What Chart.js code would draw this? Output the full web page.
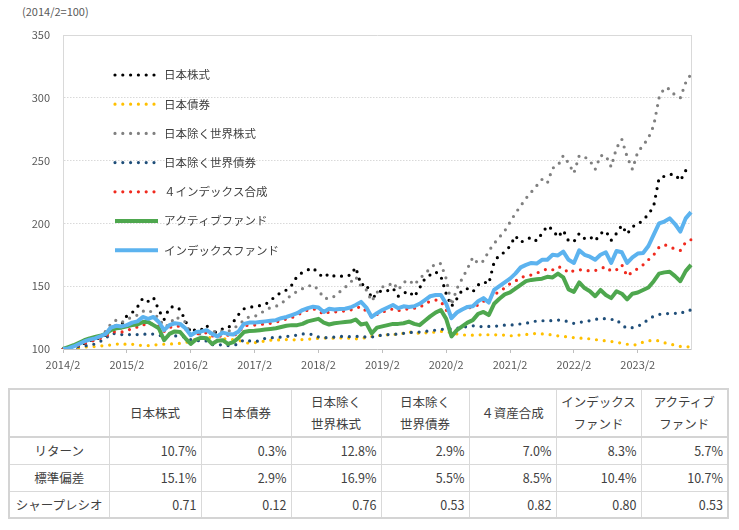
<!DOCTYPE html>
<html lang="ja">
<head>
<meta charset="UTF-8">
<title>資産クラス別の推移</title>
<script src="https://cdn.jsdelivr.net/npm/chart.js@4"></script>
<style>
  body { margin: 0; background: #fff; width: 739px; height: 530px; position: relative; overflow: hidden;
         font-family: "Noto Sans CJK JP", "Noto Sans", sans-serif; color: #404040; }
  #base-note { position: absolute; left: 22px; top: 3px; font-size: 11px; color: #595959; }
  #chart-box { position: absolute; left: 0; top: 0; width: 739px; height: 385px; }
  #stats { position: absolute; left: 8px; top: 388px; width: 719px; border-collapse: collapse;
           table-layout: fixed; font-size: 12.5px; border: 2px solid #d4d4d4; }
  #stats th, #stats td { border: 1px solid #d9d9d9; padding: 0 4px; }
  #stats th { font-weight: normal; text-align: center; line-height: 22px; }
  #stats thead tr { height: 48px; }
  #stats thead th { border-bottom: 2px solid #d4d4d4; }
  #stats tbody tr { height: 27px; }
  #stats td { text-align: right; }
  #stats td.rowhead { text-align: center; }
</style>
</head>
<body>
<div id="base-note">(2014/2=100)</div>
<div id="chart-box"><canvas id="trend"></canvas></div>
<table id="stats">
  <colgroup>
    <col style="width:100px"><col style="width:92px"><col style="width:90px"><col style="width:90px">
    <col style="width:88px"><col style="width:87px"><col style="width:85px"><col style="width:87px">
  </colgroup>
  <thead><tr id="stats-head"><th></th></tr></thead>
  <tbody id="stats-body"></tbody>
</table>

<script>
// 月次ラベル 2014/2 ～ 2023/12
const months = [];
for (let k = 0; k < 119; k++) {
  const t = 2014 * 12 + 1 + k;
  months.push(Math.floor(t / 12) + '/' + (t % 12 + 1));
}
const yearTicks = ['2014/2', '2015/2', '2016/2', '2017/2', '2018/2', '2019/2', '2020/2', '2021/2', '2022/2', '2023/2'];

const japanStock = [
  100, 99.5, 99, 101, 104.5, 107, 106.5, 110, 111, 118, 118.5, 119.5,
  126.5, 129, 133.5, 140.5, 138, 141, 131, 123.5, 133, 134, 131.5, 122.5,
  113, 116, 115.5, 119, 110.5, 115, 116, 116.5, 121.5, 127.5, 132, 133,
  134, 134.5, 135.5, 138.5, 142.5, 145, 147, 151, 158, 161, 163, 164.5,
  160, 157, 160, 158, 157.5, 159, 158.5, 165, 151, 152, 140, 144,
  147, 146.5, 148.5, 142, 144.5, 146, 141.5, 148.5, 156, 159, 161.5, 158,
  144, 134, 140, 147, 148, 145.5, 151, 153.5, 152, 169, 175, 177,
  182, 190, 185, 187, 189, 186, 192, 198, 195, 189, 194.5, 186,
  185.5, 192, 188, 189.5, 186, 192, 194, 186.5, 192, 198.5, 191.5, 197.5,
  199, 203, 207, 214, 236, 237.5, 239, 239, 234, 242, 245
];
const japanBond = [
  100, 100.3, 100.6, 101, 101.5, 101.8, 102, 102.5, 102.7, 103.3, 103.8, 104.5,
  103.5, 103.8, 103, 102.8, 102.7, 103.2, 103.5, 103.8, 104, 104.2, 104.5, 105,
  106.5, 108, 108.5, 108.5, 109.5, 110, 108.5, 107.5, 107.5, 107, 105.5, 104.5,
  105, 105.5, 106.5, 107, 107, 107.5, 107.5, 107.2, 107.5, 107.5, 107.8, 108,
  108.5, 108.7, 108.7, 108.5, 108.8, 108.8, 108.5, 108, 108.5, 109, 110, 110.5,
  111, 111.3, 111.3, 112, 112.5, 113.5, 113, 112.5, 112.8, 113, 113.5, 114,
  113.8, 113, 112, 111.3, 111, 111, 111.2, 111.5, 111.3, 111.3, 111.2, 111.1,
  110.5, 110.8, 111.2, 111.5, 112, 112.5, 112, 111.5, 111.3, 110.5, 110, 109.5,
  109, 108.5, 108.8, 108, 107.5, 107, 106.5, 106, 105.5, 104.5, 103.8, 103.2,
  103.5, 105.5, 106.5, 107, 106.5, 105, 104, 103, 102, 101.5, 102
];
const worldStock = [
  100, 100.5, 101, 103, 104.5, 106, 107, 110, 114, 120, 123, 121,
  123.5, 125.5, 127, 130, 131, 128.5, 124.5, 118, 119, 125.5, 124, 121.5,
  111.5, 111, 112.5, 114, 113, 115, 114, 113.8, 116.5, 119, 123, 125.7,
  126, 128, 131, 133, 134, 136, 140, 143, 146, 148, 150, 151,
  147, 140.5, 140, 142, 145.5, 149, 153, 157.5, 150, 147, 138, 145,
  149.5, 150, 153, 147, 153, 155, 151, 156, 160, 164, 168, 168,
  156, 135, 148, 156, 164, 173, 168, 170, 178, 184, 189, 194,
  201, 208, 214, 220, 225, 230, 235, 232, 244, 246, 254, 248,
  240, 254, 253, 250, 243, 254, 254, 245, 260, 267, 253, 243,
  257, 262, 268, 278, 300, 308, 307, 302, 300, 312, 319
];
const worldBond = [
  100, 100.5, 101, 102, 102.5, 103, 104, 106, 108.5, 112, 112.5, 111.5,
  112, 111, 111.5, 112, 111.5, 112, 111, 110, 110.5, 110.5, 110, 109.5,
  107.5, 107, 106, 106.5, 103.5, 103, 103.5, 102.7, 103, 104, 107.5, 106.5,
  106, 106.5, 108.5, 109, 109, 109.5, 110, 110.5, 111, 112, 112, 111.5,
  109.5, 109, 109, 109.5, 110, 110, 109.8, 110, 110, 109.5, 109.5, 110.5,
  111, 111.5, 111.5, 112, 112.5, 113, 113.5, 113.5, 114, 114.5, 115, 115.5,
  116, 116, 116.5, 117, 118, 118.5, 118, 117.8, 118, 118, 118.5, 119,
  119, 119.5, 120, 120.5, 121.5, 122.3, 122.5, 122.5, 122.6, 123, 123, 121.5,
  120.4, 121, 122, 122.5, 123.5, 124.4, 124, 123.5, 123.5, 119, 116.5, 117,
  118.3, 120, 124, 126, 127.5, 128, 128.4, 128.4, 128, 130.5, 131
];
const fourIndex = [
  100, 100.5, 101.5, 103, 104.5, 106, 107, 108.5, 110, 113, 114, 113.5,
  114.5, 116.5, 117.5, 119.5, 119, 120.5, 118, 114, 117, 118.5, 118, 116,
  111, 112, 112.5, 113, 110.5, 109.5, 111, 111, 110.5, 113, 118.5, 119,
  119, 119.5, 120, 120.5, 121.5, 122.5, 124, 125, 127, 129, 131, 132,
  130.5, 127.5, 129.5, 129.5, 130, 130.3, 131, 132.5, 133.7, 130, 125.5, 127.5,
  129.5, 130.5, 132, 130.5, 131.5, 132, 132.5, 133, 136, 138, 139, 138,
  131, 124.5, 129, 131.5, 132.5, 133.5, 135, 138, 139.5, 143, 146, 148.5,
  152, 154, 157, 158, 159, 160.5, 162, 164, 163, 165.5, 164.5, 160.5,
  162.5, 163, 163, 162, 162.5, 164, 165.5, 162, 163, 167, 158, 161.5,
  164, 167, 171, 175, 181, 183, 181.5, 179.5, 178.5, 185, 187
];
const activeFund = [
  100, 101.5, 103, 105, 107, 108.5, 109.5, 110.5, 112, 115, 116.5, 117,
  118, 119, 119.5, 121.5, 121.5, 119, 116.5, 107, 112, 114, 113.5, 108.5,
  104, 107.5, 109, 108.5, 104, 106.5, 107, 104, 105.5, 109, 113.5, 114.3,
  114.5, 115, 115.5, 116, 116.5, 117.5, 118.5, 119, 119, 120, 122, 123,
  124, 121, 119.5, 120.5, 121, 121.5, 121.8, 123.5, 119.5, 120.4, 112.5, 117,
  118, 119, 120, 120, 120.5, 121.8, 120, 119, 122.5, 126, 129, 131,
  124, 110, 115, 118, 121, 123, 128, 129.5, 127, 136, 140, 143.5,
  145, 148, 151, 154, 155, 155.5, 156, 157.5, 157, 160, 157, 147.5,
  145.5, 153, 148.5, 146, 142, 147, 143, 140.5, 146, 144, 139.5, 144,
  145, 147, 149, 154, 160, 161, 161.5, 158, 154, 162, 167
];
const indexFund = [
  100, 100.5, 102, 104, 106, 107.5, 108.5, 110, 112, 117, 118.5, 118,
  119, 121, 122, 125.5, 124, 125.5, 121.5, 115, 119, 120.5, 120, 116.5,
  111, 113.5, 114, 115, 112, 110, 113, 112, 111.5, 114, 120, 121,
  121, 121.5, 122, 122.5, 123, 124.5, 125.5, 127, 128.5, 131, 132.5, 133.7,
  133, 129.5, 132, 131.5, 131.8, 132, 133, 135, 137.5, 133, 125.5, 128.5,
  131, 133, 135, 132.5, 134, 133.5, 134, 136, 139, 142, 143, 143,
  136, 124.5, 129, 131.5, 133.5, 134, 138, 140.5, 137, 147, 150, 153,
  156, 160, 165, 167, 168.5, 168, 171, 171, 175, 174.5, 177.5, 171,
  168.5, 178.5, 175, 173.5, 171, 175, 177, 168.5, 178, 177, 168.5, 173,
  176, 176.5, 182, 191, 200, 201.5, 204, 199.5, 193.5, 204, 209
];

// 表
const statCols = ['日本株式', '日本債券', '日本除く<br>世界株式', '日本除く<br>世界債券', '４資産合成', 'インデックス<br>ファンド', 'アクティブ<br>ファンド'];
const statRows = ['リターン', '標準偏差', 'シャープレシオ'];
const returns = ['10.7%', '0.3%', '12.8%', '2.9%', '7.0%', '8.3%', '5.7%'];
const stdDevs = ['15.1%', '2.9%', '16.9%', '5.5%', '8.5%', '10.4%', '10.7%'];
const sharpe = ['0.71', '0.12', '0.76', '0.53', '0.82', '0.80', '0.53'];

const head = document.getElementById('stats-head');
statCols.forEach(c => { const th = document.createElement('th'); th.innerHTML = c; head.appendChild(th); });
const body = document.getElementById('stats-body');
[returns, stdDevs, sharpe].forEach((vals, r) => {
  const tr = document.createElement('tr');
  tr.innerHTML = '<td class="rowhead">' + statRows[r] + '</td>' + vals.map(v => '<td>' + v + '</td>').join('');
  body.appendChild(tr);
});

Chart.defaults.font.family = '"Noto Sans CJK JP", "Noto Sans", sans-serif';

function dotted(label, data, color) {
  return { label, data, borderColor: color, backgroundColor: color, borderWidth: 3.2,
           borderDash: [0, 7.8], borderCapStyle: 'round', pointRadius: 0, tension: 0 };
}
function solid(label, data, color) {
  return { label, data, borderColor: color, backgroundColor: color, borderWidth: 4,
           borderJoinStyle: 'round', pointRadius: 0, tension: 0 };
}

const datasets = [
  dotted('日本株式', japanStock, '#000000'),
  dotted('日本債券', japanBond, '#ffc000'),
  dotted('日本除く世界株式', worldStock, '#808080'),
  dotted('日本除く世界債券', worldBond, '#1f4e79'),
  dotted('４インデックス合成', fourIndex, '#f02a1e'),
  solid('アクティブファンド', activeFund, '#4ea74e'),
  solid('インデックスファンド', indexFund, '#5cb3ef')
];
datasets.forEach((d, k) => { d.order = datasets.length - k; });

// 凡例はプロット内の左上に縦並び
const insideLegend = {
  id: 'insideLegend',
  afterDraw(chart) {
    const ctx = chart.ctx;
    const x0 = chart.chartArea.left + 52;
    chart.data.datasets.forEach((ds, k) => {
      const y = chart.chartArea.top + 40 + k * 29.2;
      ctx.save();
      ctx.strokeStyle = ds.borderColor;
      ctx.lineWidth = ds.borderWidth;
      ctx.lineCap = ds.borderCapStyle || 'butt';
      ctx.setLineDash(ds.borderDash || []);
      ctx.beginPath();
      ctx.moveTo(x0, y);
      ctx.lineTo(x0 + (ds.borderDash ? 40 : 43), y);
      ctx.stroke();
      ctx.setLineDash([]);
      ctx.fillStyle = '#404040';
      ctx.font = '11.5px "Noto Sans CJK JP"';
      ctx.textBaseline = 'middle';
      ctx.fillText(ds.label, x0 + 49, y);
      ctx.restore();
    });
  }
};

new Chart(document.getElementById('trend'), {
  type: 'line',
  data: { labels: months, datasets },
  options: {
    responsive: true,
    maintainAspectRatio: false,
    animation: false,
    layout: { padding: { top: 35, left: 0, right: 0, bottom: 0 } },
    plugins: { legend: { display: false }, tooltip: { enabled: false } },
    scales: {
      x: {
        afterFit(s) { s.height = 36; },
        grid: {
          drawOnChartArea: false,
          tickLength: 4,
          color: c => (c.index % 12 === 0 ? '#bfbfbf' : 'rgba(0,0,0,0)')
        },
        border: { color: '#bfbfbf' },
        ticks: {
          autoSkip: false, maxRotation: 0, padding: 5, color: '#595959', font: { size: 11 },
          callback(v) { const l = this.getLabelForValue(v); return yearTicks.includes(l) ? l : ''; }
        }
      },
      y: {
        min: 100, max: 350,
        afterFit(s) { s.width = 63; },
        grid: {
          drawTicks: false,
          color: c => (c.tick && c.tick.value === 100 ? 'rgba(0,0,0,0)' : '#d9d9d9')
        },
        border: { color: '#d9d9d9', dash: c => (c.tick && c.tick.value === 350 ? [] : [1.5, 1.5]) },
        ticks: { stepSize: 50, padding: 13, color: '#595959', font: { size: 11 } }
      },
      yRight: {
        position: 'right', min: 100, max: 350,
        afterFit(s) { s.width = 48; },
        grid: { display: false },
        ticks: { display: false },
        border: { color: '#d9d9d9' }
      }
    }
  },
  plugins: [insideLegend]
});
</script>
</body>
</html>
